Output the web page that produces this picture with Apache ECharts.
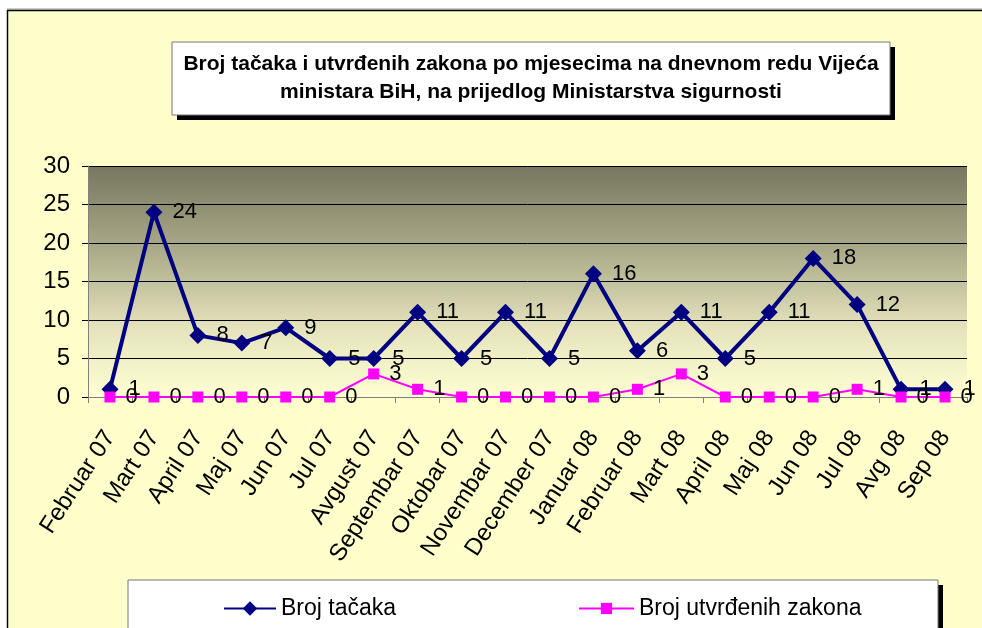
<!DOCTYPE html>
<html>
<head>
<meta charset="utf-8">
<script src="https://cdn.jsdelivr.net/npm/echarts@6/dist/echarts.min.js"></script>
<style>
  html, body { margin: 0; padding: 0; background: #fff; }
  #main { width: 982px; height: 628px; }
</style>
</head>
<body>
<div id="main"></div>
<script>
// months on the agenda
const months = [
  "Februar 07", "Mart 07", "April 07", "Maj 07", "Jun 07", "Jul 07",
  "Avgust 07", "Septembar 07", "Oktobar 07", "Novembar 07", "December 07",
  "Januar 08", "Februar 08", "Mart 08", "April 08", "Maj 08", "Jun 08",
  "Jul 08", "Avg 08", "Sep 08"
];
const brojTacaka = [1, 24, 8, 7, 9, 5, 5, 11, 5, 11, 5, 16, 6, 11, 5, 11, 18, 12, 1, 1];
const brojZakona = [0, 0, 0, 0, 0, 0, 3, 1, 0, 0, 0, 0, 1, 3, 0, 0, 0, 1, 0, 0];
const yTicks = [0, 5, 10, 15, 20, 25, 30];

const titleLines = [
  "Broj tačaka i utvrđenih zakona po mjesecima na dnevnom redu Vijeća",
  "ministara BiH, na prijedlog Ministarstva sigurnosti"
];
const seriesNames = ["Broj tačaka", "Broj utvrđenih zakona"];

const FONT = "Liberation Sans, Arial, sans-serif";

const chart = echarts.init(document.getElementById("main"));

const labelStyle = {
  show: true,
  position: "right",
  distance: 10,
  color: "#000",
  fontSize: 22,
  fontFamily: FONT
};

chart.setOption({
  backgroundColor: "#FFFFCC",
  animation: false,
  textStyle: { fontFamily: FONT },
  graphic: [
    // white margin strips + outer border
    { type: "rect", shape: { x: 0, y: 0, width: 982, height: 9 }, style: { fill: "#fff" }, silent: true },
    { type: "rect", shape: { x: 0, y: 0, width: 7, height: 628 }, style: { fill: "#fff" }, silent: true },
    { type: "line", shape: { x1: 7, y1: 9, x2: 982, y2: 9 }, style: { stroke: "#999", lineWidth: 1 } },
    { type: "line", shape: { x1: 7, y1: 10.5, x2: 982, y2: 10.5 }, style: { stroke: "#000", lineWidth: 1.5 } },
    { type: "line", shape: { x1: 7.5, y1: 10, x2: 7.5, y2: 628 }, style: { stroke: "#000", lineWidth: 1.5 } },
    // title box with shadow
    { type: "rect", shape: { x: 177, y: 47, width: 718, height: 73 }, style: { fill: "#000" } },
    { type: "rect", shape: { x: 172, y: 42, width: 718, height: 73 }, style: { fill: "#fff", stroke: "#777", lineWidth: 1 } },
    {
      type: "text", x: 531, y: 64,
      style: { text: titleLines[0], fill: "#000", font: "bold 21px " + FONT, textAlign: "center", textVerticalAlign: "middle" }
    },
    {
      type: "text", x: 531, y: 92,
      style: { text: titleLines[1], fill: "#000", font: "bold 21px " + FONT, textAlign: "center", textVerticalAlign: "middle" }
    },
    // legend box with shadow
    { type: "rect", shape: { x: 133, y: 585, width: 810, height: 60 }, style: { fill: "#000" } },
    { type: "rect", shape: { x: 128, y: 580, width: 810, height: 60 }, style: { fill: "#fff", stroke: "#777", lineWidth: 1 } }
  ],
  legend: [
    {
      data: [seriesNames[0]],
      left: 218, top: 592,
      itemWidth: 52, itemHeight: 18, itemGap: 4,
      textStyle: { fontSize: 23, color: "#000", fontFamily: FONT }
    },
    {
      data: [seriesNames[1]],
      left: 573, top: 592,
      itemWidth: 55, itemHeight: 14, itemGap: 4,
      textStyle: { fontSize: 23, color: "#000", fontFamily: FONT }
    }
  ],
  grid: {
    left: 88, right: 15, top: 166, bottom: 231,
    show: true,
    borderWidth: 0,
    backgroundColor: new echarts.graphic.LinearGradient(0, 0, 0, 1, [
      { offset: 0, color: "#77775F" },
      { offset: 0.35, color: "#A9A887" },
      { offset: 0.7, color: "#E4E3BC" },
      { offset: 1, color: "#FFFFD2" }
    ])
  },
  xAxis: {
    type: "category",
    data: months,
    boundaryGap: true,
    axisLine: { lineStyle: { color: "#808080", width: 1 } },
    axisTick: { show: true, length: 6, lineStyle: { color: "#808080" } },
    axisLabel: { rotate: 57, margin: 36, fontSize: 24, color: "#000", fontFamily: FONT, interval: 0 }
  },
  yAxis: {
    type: "value",
    min: yTicks[0],
    max: yTicks[yTicks.length - 1],
    interval: 5,
    axisLine: { show: true, lineStyle: { color: "#808080", width: 1 } },
    axisTick: { show: true, length: 6, lineStyle: { color: "#000" } },
    axisLabel: { fontSize: 24, color: "#000", margin: 18, fontFamily: FONT },
    splitLine: { lineStyle: { color: "#000", width: 1 } }
  },
  series: [
    {
      name: seriesNames[0],
      type: "line",
      data: brojTacaka,
      symbol: "diamond",
      symbolSize: 17,
      z: 3,
      itemStyle: { color: "#000080" },
      lineStyle: { color: "#000080", width: 4 },
      label: labelStyle
    },
    {
      name: seriesNames[1],
      type: "line",
      data: brojZakona,
      symbol: "rect",
      symbolSize: 11,
      z: 4,
      itemStyle: { color: "#FF00FF" },
      lineStyle: { color: "#FF00FF", width: 2 },
      label: labelStyle
    }
  ]
});
</script>
</body>
</html>
